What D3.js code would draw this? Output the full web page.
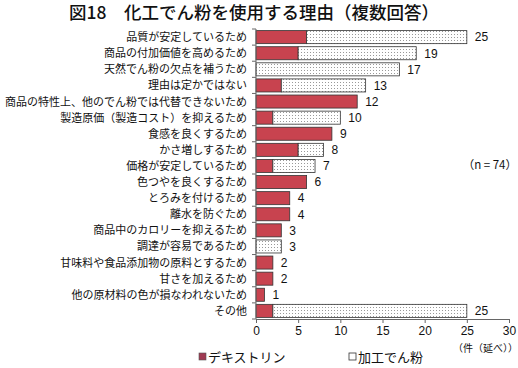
<!DOCTYPE html>
<html><head><meta charset="utf-8">
<script src="https://cdn.jsdelivr.net/npm/d3@7"></script>
<style>
body{margin:0;background:#fff;}
svg{display:block;font-family:"Noto Sans CJK JP","Noto Sans CJK SC",sans-serif;}
</style></head>
<body><svg id="c" width="518" height="368"></svg>
<script>
const categories = ["品質が安定しているため","商品の付加価値を高めるため","天然でん粉の欠点を補うため","理由は定かではない","商品の特性上、他のでん粉では代替できないため","製造原価（製造コスト）を抑えるため","食感を良くするため","かさ増しするため","価格が安定しているため","色つやを良くするため","とろみを付けるため","離水を防ぐため","商品中のカロリーを抑えるため","調達が容易であるため","甘味料や食品添加物の原料とするため","甘さを加えるため","他の原材料の色が損なわれないため","その他"];
const dextrin = [6,5,0,3,12,2,9,5,2,6,4,4,3,0,2,2,1,2];
const modified = [19,14,17,10,0,8,0,3,5,0,0,0,0,3,0,0,0,23];
const seriesNames = ["デキストリン","加工でん粉"];
const xTicks = [0,5,10,15,20,25,30];
const title = "図18　化工でん粉を使用する理由（複数回答）";
const nNote = "（n = 74）";
const unitNote = "（件（延べ））";

const svg = d3.select("#c");
const defs = svg.append("defs");
const pat = defs.append("pattern").attr("id","dots").attr("patternUnits","userSpaceOnUse").attr("width",3).attr("height",3);
pat.append("rect").attr("width",3).attr("height",3).attr("fill","#fff");
pat.append("rect").attr("x",1).attr("y",1).attr("width",1).attr("height",1).attr("fill","#999");

const x = d3.scaleLinear().domain([0,30]).range([256,509]);
const y = d3.scaleBand().domain(categories).range([29,319]).paddingInner(0.19).paddingOuter(0.1);
const red = "#c8434f", stroke = "#333";

svg.append("text").attr("x",254).attr("y",19).attr("text-anchor","middle").attr("font-size",17.5).attr("font-weight",500).attr("fill","#111").text(title);

const g = svg.append("g");
categories.forEach((c,i)=>{
  const yy = y(c), h = y.bandwidth();
  if (dextrin[i]>0) g.append("rect").attr("x",x(0)).attr("y",yy).attr("width",x(dextrin[i])-x(0)).attr("height",h).attr("fill",red).attr("stroke",stroke).attr("stroke-width",0.8);
  if (modified[i]>0) g.append("rect").attr("x",x(dextrin[i])).attr("y",yy).attr("width",x(dextrin[i]+modified[i])-x(dextrin[i])).attr("height",h).attr("fill","url(#dots)").attr("stroke",stroke).attr("stroke-width",0.8);
  g.append("text").attr("x",x(dextrin[i]+modified[i])+8).attr("y",yy+h/2).attr("dy","0.36em").attr("font-size",12).attr("font-family","Liberation Sans, Arial, sans-serif").attr("fill","#111").text(dextrin[i]+modified[i]);
  g.append("text").attr("x",247).attr("y",yy+h/2).attr("dy","0.36em").attr("text-anchor","end").attr("font-size",11).attr("fill","#111").text(c);
});

const yTop = 29, yBot = 319;
svg.append("line").attr("x1",256).attr("x2",256).attr("y1",yTop).attr("y2",yBot).attr("stroke","#666");
for (let k=0;k<=categories.length;k++){
  const yy = yTop + (yBot-yTop)*k/categories.length;
  svg.append("line").attr("x1",252).attr("x2",256).attr("y1",yy).attr("y2",yy).attr("stroke","#666");
}
const ax = svg.append("g").attr("transform",`translate(0,${yBot})`).call(d3.axisBottom(x).tickValues(xTicks).tickSize(4).tickPadding(3));
ax.select(".domain").attr("stroke","#666");
ax.selectAll(".tick line").attr("stroke","#666");
ax.selectAll(".tick text").attr("font-size",12).attr("font-family","Liberation Sans, Arial, sans-serif").attr("fill","#111");

svg.append("text").attr("x",517).attr("y",169).attr("text-anchor","end").attr("font-size",11.5).attr("fill","#111").text(nNote);
svg.append("text").attr("x",518).attr("y",352).attr("text-anchor","end").attr("font-size",10).attr("fill","#111").text(unitNote);

svg.append("rect").attr("x",199).attr("y",353).attr("width",7).attr("height",7).attr("fill","#a03a52").attr("stroke","#555").attr("stroke-width",0.6);
svg.append("text").attr("x",208).attr("y",357).attr("dy","0.36em").attr("font-size",13).attr("fill","#111").text(seriesNames[0]);
svg.append("rect").attr("x",349).attr("y",353).attr("width",7).attr("height",7).attr("fill","#fff").attr("stroke","#333").attr("stroke-width",0.8);
svg.append("text").attr("x",358).attr("y",357).attr("dy","0.36em").attr("font-size",13).attr("fill","#111").text(seriesNames[1]);
</script></body></html>
